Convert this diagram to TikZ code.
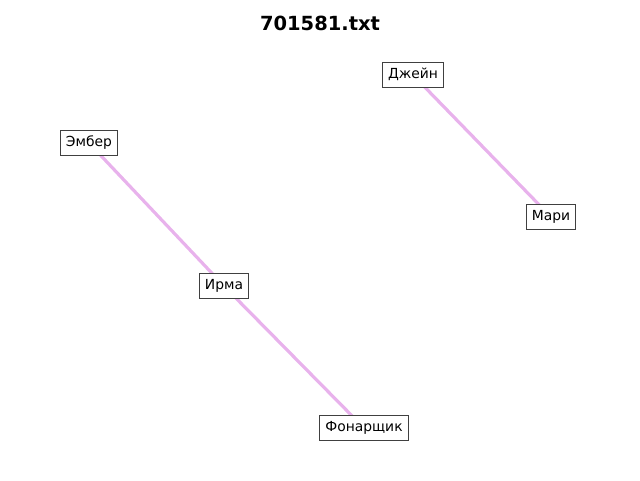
\documentclass[tikz,border=0pt]{standalone}
\usepackage{fontspec}
\setmainfont{DejaVu Sans}
\definecolor{edgecol}{RGB}{232,178,236}
\definecolor{boxcol}{RGB}{64,64,64}
\tikzset{
  lbl/.style={draw=boxcol, fill=white, line width=0.75pt, font=\fontsize{10.4}{12}\selectfont,
    inner xsep=4.3pt, inner ysep=0pt, text height=8pt, text depth=2.2pt, minimum height=18.6pt},
  link/.style={draw=edgecol, line width=2.4pt},
  ttl/.style={font=\fontsize{14.6}{17}\selectfont\bfseries}
}
\begin{document}
\begin{tikzpicture}[x=0.75pt,y=-0.75pt]
\useasboundingbox (0,0) rectangle (640,480);
\node[ttl] (title) at (320,23) {701581.txt};
\coordinate (cJ) at (413,75);
\coordinate (cM) at (551,217);
\coordinate (cE) at (89,143);
\coordinate (cI) at (224,286);
\coordinate (cF) at (364,428);
\draw[link] (cJ) -- (cM);
\draw[link] (cE) -- (cI);
\draw[link] (cI) -- (cF);
\node[lbl] (J) at (cJ) {Джейн};
\node[lbl] (M) at (cM) {Мари};
\node[lbl] (E) at (cE) {Эмбер};
\node[lbl] (I) at (cI) {Ирма};
\node[lbl] (F) at (cF) {Фонарщик};
\end{tikzpicture}
\end{document}
